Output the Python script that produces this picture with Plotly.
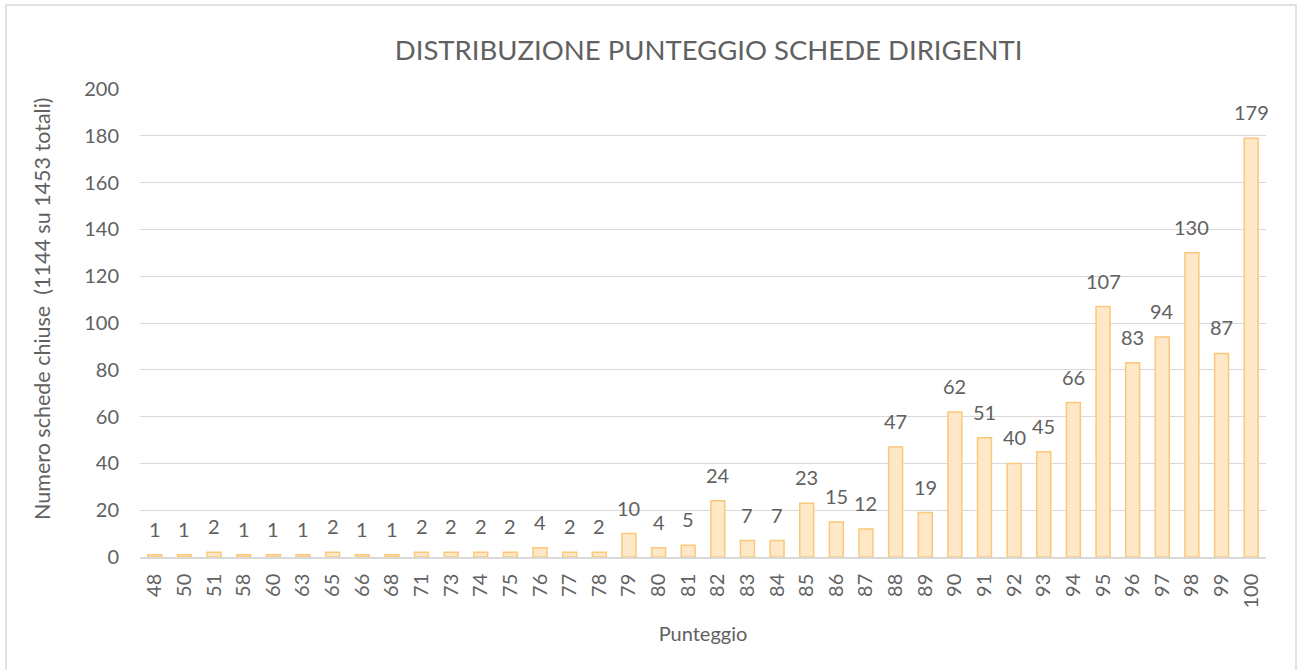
import plotly.graph_objects as go

categories = ["48", "50", "51", "58", "60", "63", "65", "66", "68", "71", "73", "74", "75", "76", "77", "78",
              "79", "80", "81", "82", "83", "84", "85", "86", "87", "88", "89", "90", "91", "92", "93", "94",
              "95", "96", "97", "98", "99", "100"]
values = [1, 1, 2, 1, 1, 1, 2, 1, 1, 2, 2, 2, 2, 4, 2, 2,
          10, 4, 5, 24, 7, 7, 23, 15, 12, 47, 19, 62, 51, 40, 45, 66,
          107, 83, 94, 130, 87, 179]
y_ticks = [0, 20, 40, 60, 80, 100, 120, 140, 160, 180, 200]

FONT = "Lato, 'Open Sans', sans-serif"
GREY = "#616161"

fig = go.Figure(go.Bar(
    x=categories, y=values,
    width=0.47,
    marker=dict(color="#FFE8C8", line=dict(color="#FAC878", width=1.5)),
    cliponaxis=False,
))

for i, v in enumerate(values):
    fig.add_annotation(x=i, y=v, text=str(v), showarrow=False,
                       xanchor="center", yanchor="bottom", yshift=12,
                       font=dict(family=FONT, size=20, color=GREY))

L, R, T, B = 140, 32, 89, 113
W, H = 1298, 670
pw, ph = W - L - R, H - T - B

fig.update_layout(
    width=W, height=H,
    margin=dict(l=L, r=R, t=T, b=B, autoexpand=False),
    paper_bgcolor="white", plot_bgcolor="white",
    font=dict(family=FONT, color=GREY),
    showlegend=False,
    title=dict(text="DISTRIBUZIONE PUNTEGGIO SCHEDE DIRIGENTI",
               x=0.505, xref="paper", xanchor="center",
               y=1 - 50 / H, yref="container", yanchor="middle",
               font=dict(family=FONT, size=27.5, color=GREY)),
    xaxis=dict(type="category", tickangle=-90, tickfont=dict(size=20, color=GREY),
               categoryorder="array", categoryarray=categories,
               range=[-0.5, len(categories) - 0.5],
               tickmode="array", tickvals=categories, ticktext=categories,
               showgrid=False, showline=True, linecolor="#D9D9D9", linewidth=1.5,
               ticks="", ticklen=0, ticklabelstandoff=7,
               title=dict(text="Punteggio", font=dict(size=20, color=GREY), standoff=19)),
    yaxis=dict(range=[0, 200], tickvals=y_ticks, tickfont=dict(size=20, color=GREY),
               showgrid=True, gridcolor="#D9D9D9", gridwidth=1.3, zeroline=False,
               showline=False, ticks="", ticklabelstandoff=20),
)

fig.add_annotation(text="Numero schede chiuse  (1144 su 1453 totali)",
                   xref="paper", yref="paper",
                   x=(42 - L) / pw, y=(H - B - 309) / ph,
                   xanchor="center", yanchor="middle", textangle=-90, showarrow=False,
                   font=dict(family=FONT, size=21.5, color=GREY))

fig.add_shape(type="rect", xref="paper", yref="paper",
              x0=(6 - L) / pw, x1=(1296 - L) / pw,
              y0=(H - B - 672) / ph, y1=(H - B - 5) / ph,
              line=dict(color="#D9D9D9", width=1.5), fillcolor="rgba(0,0,0,0)", layer="below")

fig.write_html("out.html", config={"displayModeBar": False},
               post_script="document.body.style.margin='0';")
